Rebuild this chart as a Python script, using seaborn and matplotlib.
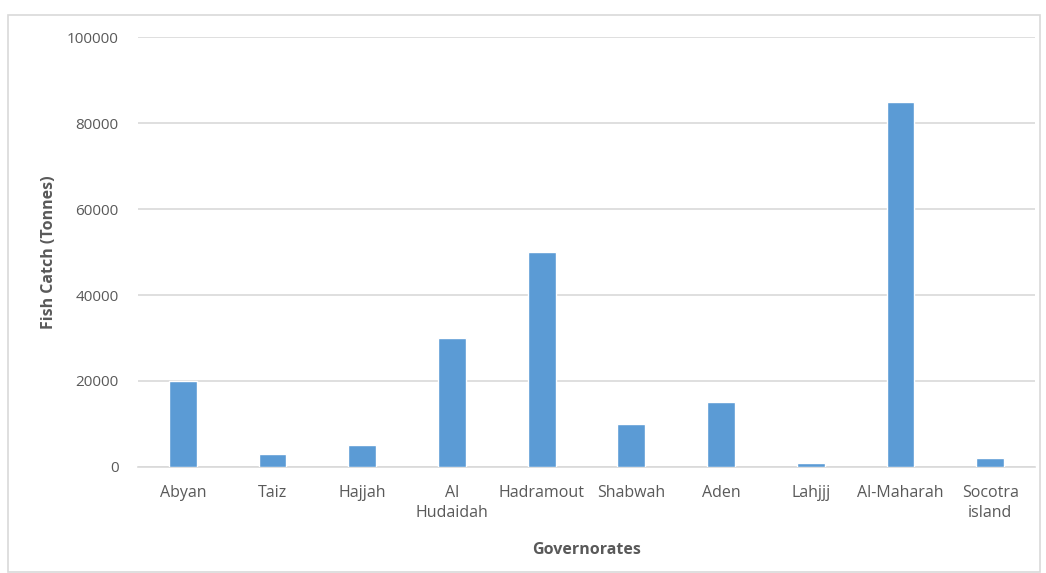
import matplotlib
matplotlib.use("Agg")
import matplotlib.pyplot as plt
import seaborn as sns
import pandas as pd
from matplotlib.patches import Rectangle

governorates = ["Abyan", "Taiz", "Hajjah", "Al\nHudaidah", "Hadramout",
                "Shabwah", "Aden", "Lahjjj", "Al-Maharah", "Socotra\nisland"]
catch_tonnes = [20000, 3000, 5000, 30000, 50000, 10000, 15000, 1000, 85000, 2000]
y_ticks = [0, 20000, 40000, 60000, 80000, 100000]

df = pd.DataFrame({"Governorate": governorates, "Catch": catch_tonnes})

sns.set_theme(style="white")
plt.rcParams["font.family"] = ["Open Sans", "DejaVu Sans"]

text_color = "#595959"
grid_color = "#d9d9d9"

fig = plt.figure(figsize=(10.46, 5.73), dpi=100)
ax = fig.add_axes([0.1319, 0.185, 0.8576, 0.7504])

sns.barplot(data=df, x="Governorate", y="Catch", color="#5B9BD5",
            width=0.31, saturation=1, ax=ax, zorder=3)

ax.set_ylim(0, 100000)
ax.set_yticks(y_ticks)
ax.set_yticklabels([str(v) for v in y_ticks])
ax.set_xlim(-0.5, len(governorates) - 0.5)
ax.yaxis.grid(True, color=grid_color, linewidth=1.2, zorder=0)
ax.xaxis.grid(False)
for side in ["top", "right", "left"]:
    ax.spines[side].set_visible(False)
ax.spines["bottom"].set_color(grid_color)
ax.spines["bottom"].set_linewidth(1.2)

ax.tick_params(axis="x", length=0, labelsize=11.5, colors=text_color, pad=13)
ax.tick_params(axis="y", length=0, labelsize=11, colors=text_color, pad=14)
for lbl in ax.get_xticklabels():
    lbl.set_linespacing(1.35)

ax.set_xlabel("Governorates", fontsize=11.5, fontweight="bold", color=text_color, labelpad=15)
ax.set_ylabel("Fish Catch (Tonnes)", fontsize=11.5, fontweight="bold", color=text_color, labelpad=7)

# light frame around the whole chart
fig.patches.append(Rectangle((8 / 1046, 0.002), 1032 / 1046, 1 - 15 / 573 - 0.002,
                             transform=fig.transFigure, fill=False,
                             edgecolor=grid_color, linewidth=1.2))

fig.savefig("out.png", dpi=100, facecolor="white")
